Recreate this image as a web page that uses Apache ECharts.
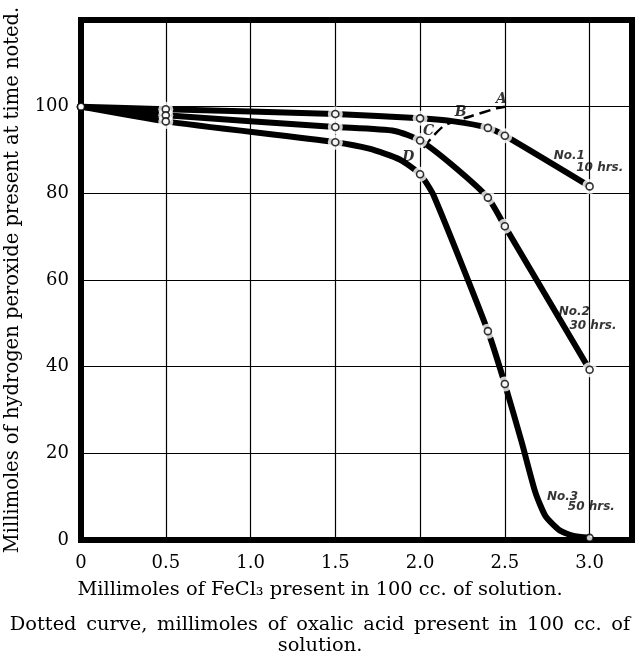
<!DOCTYPE html>
<html><head><meta charset="utf-8">
<script src="https://cdn.jsdelivr.net/npm/echarts/dist/echarts.min.js"></script>
<style>html,body{margin:0;padding:0;background:#fff}#c{width:641px;height:661px}</style>
</head><body><div id="c"></div>
<script>
// measured points (circles)
const xPoints   = [0, 0.5, 1.5, 2.0, 2.4, 2.5, 3.0];
const no1Values = [100, 99.4, 98.3, 97.3, 95.1, 93.3, 81.6];
const no2Values = [100, 98.0, 95.3, 92.2, 79.0, 72.4, 39.3];
const no3Values = [100, 96.6, 91.8, 84.4, 48.2, 36.0, 0.5];
// curve paths
const no1PathX = [0, 0.5, 1.5, 2.0, 2.2, 2.4, 2.5, 3.0];
const no1PathY = [100, 99.4, 98.3, 97.3, 96.6, 95.1, 93.3, 81.6];
const no2PathX = [0, 0.5, 1.5, 1.85, 2.0, 2.2, 2.4, 2.5, 3.0];
const no2PathY = [100, 98.0, 95.3, 94.4, 92.2, 86.2, 79.0, 72.4, 39.3];
const no3PathX = [0, 0.5, 1.5, 1.7, 1.88, 2.0, 2.08, 2.4, 2.5, 2.6, 2.68, 2.74, 2.82, 2.9, 3.0];
const no3PathY = [100, 96.6, 91.8, 90.3, 87.8, 84.4, 79.5, 48.2, 36.0, 22.5, 11.0, 5.5, 2.3, 1.0, 0.5];
// dotted curve: oxalic acid
const oxalicX = [2.02, 2.08, 2.15, 2.3, 2.45, 2.5];
const oxalicY = [90.5, 93.3, 95.8, 97.8, 99.6, 100];
// annotations
const annotText = ['No.1', '10 hrs.', 'No.2', '30 hrs.', 'No.3', '50 hrs.', 'A', 'B', 'C', 'D'];
const annotX    = [2.88, 3.06, 2.91, 3.02, 2.84, 3.01, 2.48, 2.24, 2.05, 1.93];
const annotY    = [88.6, 85.9, 52.6, 49.5, 10.0, 7.6, 101.8, 98.8, 94.3, 88.3];
// axis ticks
const xTickLabels = ['0', '0.5', '1.0', '1.5', '2.0', '2.5', '3.0'];
const xTickValues = [0, 0.5, 1.0, 1.5, 2.0, 2.5, 3.0];
// texts
const xTitle = 'Millimoles of FeCl\u2083 present in 100 cc. of solution.';
const yTitle = 'Millimoles of hydrogen peroxide present at time noted.';
const captionWords = ['Dotted', 'curve,', 'millimoles', 'of', 'oxalic', 'acid', 'present', 'in', '100', 'cc.', 'of'];
const captionLine2 = 'solution.';

const zip = (xs, ys) => xs.map((x, i) => [x, ys[i]]);
const allPoints = [].concat(zip(xPoints, no1Values), zip(xPoints, no2Values), zip(xPoints, no3Values));
const haloPoints = allPoints.filter(p => p[0] > 0 && p[1] > 2);

const serif = 'DejaVu Serif';
const chart = echarts.init(document.getElementById('c'), null, {renderer: 'canvas'});
const lineStyle = {color: '#000', width: 6};
const annotStyle = {color: '#000', fontStyle: 'italic', fontFamily: 'DejaVu Sans', fontSize: 12, fontWeight: 'bold'};
const option = {
  animation: false,
  backgroundColor: '#fff',
  grid: {left: 81, right: 9, top: 20, bottom: 121, show: true, borderColor: '#000', borderWidth: 6, backgroundColor: 'transparent', containLabel: false, outerBoundsMode: 'none'},
  xAxis: {
    type: 'value', min: 0, max: 3.25, interval: 0.5,
    axisLine: {show: false}, axisTick: {show: false},
    splitLine: {show: true, lineStyle: {color: '#000', width: 1.2}},
    axisLabel: {margin: 14, color: '#000', fontFamily: serif, fontSize: 18,
      formatter: v => { const i = xTickValues.findIndex(t => Math.abs(t - v) < 1e-6); return i >= 0 ? xTickLabels[i] : ''; }}
  },
  yAxis: {
    type: 'value', min: 0, max: 120, interval: 20,
    axisLine: {show: false}, axisTick: {show: false},
    splitLine: {show: true, lineStyle: {color: '#000', width: 1.2}},
    axisLabel: {margin: 12, color: '#000', fontFamily: serif, fontSize: 18,
      formatter: v => v > 100 ? '' : String(v)},
    name: yTitle,
    nameLocation: 'middle', nameGap: 58,
    nameTextStyle: {color: '#000', fontFamily: serif, fontSize: 19.5}
  },
  graphic: [
    {type: 'text', x: 320, y: 590, style: {text: xTitle, font: '19.4px "DejaVu Serif"', fill: '#000', textAlign: 'center', textVerticalAlign: 'middle'}},
    {type: 'text', x: 320, y: 625, style: {text: captionWords.join('\u2002'), font: '19.4px "DejaVu Serif"', fill: '#000', textAlign: 'center', textVerticalAlign: 'middle'}},
    {type: 'text', x: 320, y: 646, style: {text: captionLine2, font: '19.4px "DejaVu Serif"', fill: '#000', textAlign: 'center', textVerticalAlign: 'middle'}}
  ],
  series: [
    {type: 'line', data: zip(no1PathX, no1PathY), showSymbol: false, symbol: 'none', smooth: 0.2, lineStyle, z: 2},
    {type: 'line', data: zip(no2PathX, no2PathY), showSymbol: false, symbol: 'none', smooth: 0.2, lineStyle, z: 2},
    {type: 'line', data: zip(no3PathX, no3PathY), showSymbol: false, symbol: 'none', smooth: 0.2, lineStyle, z: 2},
    {type: 'line', data: zip(oxalicX, oxalicY), showSymbol: false, symbol: 'none', smooth: 0.3,
      lineStyle: {color: '#000', width: 2.5, type: [11, 6]}, z: 3},
    {type: 'scatter', data: haloPoints, symbol: 'circle', symbolSize: 15, itemStyle: {color: '#fff'}, z: 4, silent: true},
    {type: 'scatter', data: allPoints, symbol: 'circle', symbolSize: 7, itemStyle: {color: '#fff', borderColor: '#000', borderWidth: 1.6}, z: 5},
    {type: 'scatter', data: annotText.map((t, i) => ({name: t, value: [annotX[i], annotY[i]],
        label: t.length === 1 ? {fontSize: 14, fontFamily: serif} : {}})), symbolSize: 0, z: 6,
      label: Object.assign({show: true, position: 'inside', formatter: p => p.name}, annotStyle)}
  ]
};
chart.setOption(option);
</script></body></html>
